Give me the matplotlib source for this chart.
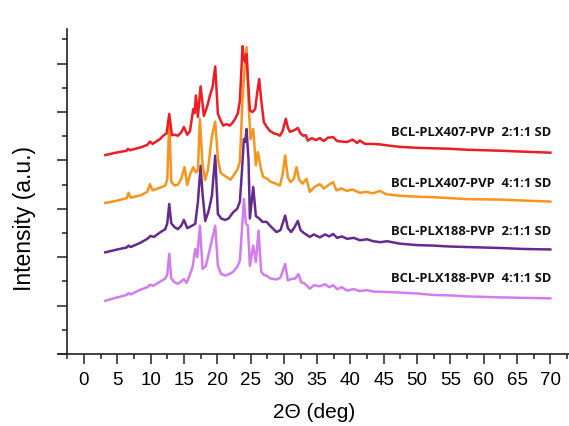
import matplotlib.pyplot as plt
from matplotlib.ticker import MultipleLocator

# 2theta (deg) / intensity (a.u., stacked as in the figure)
x_r = [3.2, 4.8, 6.4, 6.6, 6.9, 8.5, 9.5, 9.9, 10.3, 11.4, 11.9, 12.4, 12.8, 13.2, 13.6, 14.1, 14.6, 15.0,
       15.5, 15.9, 16.4, 16.6, 16.8, 17.1, 17.5, 18.0, 18.5, 18.9, 19.3, 19.7, 20.1, 20.5, 20.9, 21.4,
       21.9, 22.3, 22.7, 23.1, 23.4, 23.8, 24.0, 24.2, 24.4, 24.6, 24.9, 25.3, 25.7, 26.0, 26.3, 26.6,
       27.0, 27.4, 27.9, 28.5, 29.0, 29.4, 29.8, 30.3, 30.6, 30.9, 31.5, 32.1, 32.5, 32.9, 33.3, 33.6,
       34.2, 34.8, 35.4, 36.0, 36.6, 37.4, 38.0, 38.6, 39.5, 40.3, 41.0, 41.4, 42.2, 43.4, 44.5, 45.5,
       47.4, 50.0, 52.4, 55.0, 57.5, 60.0, 62.5, 66.0, 70.0]
y_r = [4110, 4160, 4200, 4240, 4210, 4270, 4320, 4390, 4340, 4440, 4510, 4560, 4960, 4520, 4530, 4510, 4580, 4690,
       4530, 4600, 5060, 4980, 5340, 4900, 5530, 4920, 5120, 5340, 5520, 5940, 4960, 4830, 4720, 4750,
       4720, 4780, 4860, 4980, 5230, 6360, 6100, 6030, 6200, 5700, 5030, 5000, 5060, 5400, 5680, 5250,
       4790, 4700, 4610, 4560, 4540, 4510, 4600, 4860, 4680, 4590, 4620, 4670, 4560, 4510, 4520, 4410,
       4460, 4420, 4460, 4400, 4470, 4480, 4400, 4390, 4380, 4430, 4360, 4410, 4340, 4340, 4330, 4310,
       4280, 4260, 4250, 4240, 4220, 4210, 4200, 4180, 4160]

x_o = [3.2, 5.0, 6.4, 6.7, 7.0, 8.5, 9.5, 9.9, 10.3, 11.5, 12.2, 12.5, 12.8, 13.1, 13.6, 14.1, 14.6, 15.1,
       15.5, 15.9, 16.4, 16.8, 17.1, 17.4, 17.8, 18.2, 18.6, 19.2, 19.7, 20.1, 20.5, 20.9, 21.5, 22.0,
       22.4, 23.0, 23.4, 23.8, 24.1, 24.4, 24.7, 25.0, 25.4, 25.8, 26.1, 26.6, 26.9, 27.5, 28.0, 28.8,
       29.4, 29.8, 30.2, 30.6, 31.0, 31.5, 31.9, 32.3, 32.8, 33.4, 33.9, 34.6, 35.4, 36.0, 36.8, 37.4,
       37.9, 38.6, 39.5, 40.3, 41.4, 42.3, 43.4, 44.4, 45.4, 47.4, 50.0, 52.4, 55.0, 57.5, 60.0, 62.5,
       66.0, 70.0]
y_o = [3120, 3170, 3220, 3330, 3230, 3280, 3350, 3510, 3380, 3440, 3480, 3600, 4810, 3560, 3480, 3500, 3620, 3860,
       3490, 3700, 3860, 3750, 3800, 4860, 3900, 3600, 3800, 4500, 4800, 4030, 3750, 3700, 3650, 3600,
       3680, 3800, 3970, 5270, 5900, 6340, 5200, 4440, 4650, 3900, 4170, 3800, 3660, 3620, 3560, 3520,
       3480, 3700, 4100, 3650, 3550, 3620, 3860, 3600, 3520, 3620, 3350, 3450, 3510, 3420, 3500, 3550,
       3380, 3420, 3370, 3400, 3330, 3350, 3320, 3370, 3300, 3270, 3250, 3240, 3220, 3200, 3195, 3190,
       3170, 3150]

x_p = [3.2, 5.0, 6.4, 6.7, 7.0, 8.5, 9.5, 10.0, 10.5, 11.5, 12.2, 12.5, 12.8, 13.1, 13.6, 14.1, 14.6, 15.0,
       15.5, 16.2, 16.7, 17.1, 17.5, 17.8, 18.2, 18.7, 19.2, 19.7, 20.1, 20.6, 21.2, 21.7, 22.4, 23.0,
       23.4, 23.7, 24.0, 24.2, 24.4, 24.7, 24.9, 25.4, 25.8, 26.3, 26.8, 27.4, 28.0, 28.9, 29.5, 30.2,
       30.6, 31.1, 31.6, 32.1, 32.5, 33.0, 33.9, 34.5, 35.4, 36.2, 36.8, 37.4, 38.0, 38.7, 39.5, 40.5,
       41.4, 42.5, 43.4, 44.5, 45.5, 47.4, 50.0, 52.4, 55.0, 57.5, 60.0, 62.5, 66.0, 70.0]
y_p = [2100, 2160, 2200, 2240, 2210, 2300, 2380, 2440, 2420, 2520, 2580, 2700, 3100, 2700, 2620, 2580, 2650, 2770,
       2600, 2650, 2690, 3140, 3890, 3300, 2750, 2950, 3270, 4100, 2890, 2800, 2770, 2800, 2930, 3000,
       3150, 3760, 4440, 4380, 4650, 4000, 2800, 3450, 2850, 2800, 2730, 2730, 2640, 2520, 2560, 2860,
       2600, 2520, 2620, 2750, 2560, 2500, 2420, 2470, 2410, 2470, 2430, 2480, 2400, 2430, 2380, 2400,
       2350, 2370, 2330, 2310, 2330, 2280, 2250, 2240, 2220, 2210, 2200, 2190, 2170, 2160]

x_v = [3.2, 5.0, 6.4, 6.7, 7.0, 8.5, 9.5, 9.9, 10.4, 11.5, 12.2, 12.5, 12.8, 13.1, 13.6, 14.1, 14.6, 15.0,
       15.4, 15.9, 16.3, 16.7, 17.0, 17.4, 17.8, 18.3, 18.9, 19.7, 20.1, 20.6, 21.2, 21.8, 22.4, 23.0,
       23.4, 23.7, 24.0, 24.3, 24.6, 24.9, 25.4, 25.8, 26.2, 26.6, 27.0, 27.4, 28.0, 28.9, 29.5, 30.2,
       30.6, 31.1, 31.7, 32.2, 32.6, 33.1, 33.9, 34.5, 35.4, 36.2, 36.8, 37.4, 38.0, 38.7, 39.5, 40.5,
       41.4, 42.5, 43.4, 45.5, 47.4, 50.0, 52.4, 55.0, 57.5, 60.0, 62.5, 66.0, 70.0]
y_v = [1100, 1170, 1220, 1260, 1230, 1330, 1380, 1430, 1410, 1500, 1560, 1640, 2070, 1560, 1480, 1450, 1500, 1550,
       1470, 1640, 1800, 2170, 2000, 2650, 1760, 1820, 2170, 2650, 1820, 1650, 1620, 1650, 1700, 1800,
       1930, 2550, 3200, 2700, 2650, 1820, 2240, 1900, 2550, 1700, 1630, 1620, 1560, 1540, 1580, 1860,
       1520, 1550, 1560, 1650, 1480, 1460, 1350, 1420, 1400, 1440, 1380, 1420, 1340, 1380, 1310, 1340,
       1300, 1320, 1290, 1280, 1270, 1250, 1220, 1210, 1190, 1180, 1170, 1160, 1150]

names = ['BCL-PLX407-PVP  2:1:1 SD', 'BCL-PLX407-PVP  4:1:1 SD',
         'BCL-PLX188-PVP  2:1:1 SD', 'BCL-PLX188-PVP  4:1:1 SD']
label_y = [4590, 3550, 2550, 1590]
colors = ['#ee1c25', '#f7941d', '#652a8e', '#d37cf0']

fig = plt.figure(figsize=(5.69, 4.27), dpi=100)
ax = fig.add_axes([59/569, 72/427, 510/569, 325/427])

# draw violet first so red ends on top
for xs, ys, c in reversed(list(zip([x_r, x_o, x_p, x_v], [y_r, y_o, y_p, y_v], colors))):
    ax.plot(xs, ys, color=c, lw=1.8, solid_joinstyle='round')

for nm, ly in zip(names, label_y):
    ax.text(46.1, ly, nm, fontsize=9.4, fontweight='bold', family='Open Sans',
            va='center', ha='left', color='#111111')

ax.set_xlim(-3.75, 72.8)
ax.set_ylim(0, 6715)
ax.spines['top'].set_visible(False)
ax.spines['right'].set_visible(False)
ax.spines['left'].set_position(('data', -2.55))
ax.spines['left'].set_bounds(0, 6715)
for s in ['left', 'bottom']:
    ax.spines[s].set_linewidth(1.2)
    ax.spines[s].set_color('#222222')

ax.xaxis.set_major_locator(MultipleLocator(5))
ax.xaxis.set_minor_locator(MultipleLocator(2.5))
ax.set_xticks(range(0, 71, 5))
ax.yaxis.set_major_locator(MultipleLocator(1000))
ax.yaxis.set_minor_locator(MultipleLocator(500))
ax.set_yticklabels([])
ax.tick_params(which='major', length=7, width=1.1, color='#222222')
ax.tick_params(which='minor', length=3.5, width=1.1, color='#222222')
ax.tick_params(axis='x', labelsize=13.5, pad=5)
for lab in ax.get_xticklabels():
    lab.set_family('Liberation Sans')

ax.set_xlabel('2Θ (deg)', fontsize=15, family='Liberation Sans', labelpad=10)
ax.set_ylabel('Intensity (a.u.)', fontsize=16.5, family='Liberation Sans')
ax.yaxis.set_label_coords(-0.045, 0.42)

fig.savefig('out.png', dpi=100)
